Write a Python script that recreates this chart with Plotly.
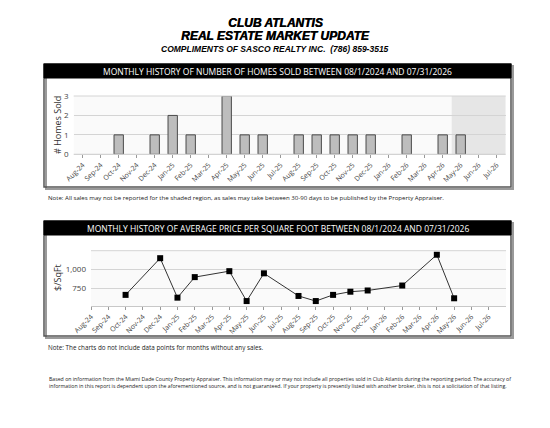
import plotly.graph_objects as go

W, H = 550, 428

months = ["Aug-24", "Sep-24", "Oct-24", "Nov-24", "Dec-24", "Jan-25", "Feb-25", "Mar-25",
          "Apr-25", "May-25", "Jun-25", "Jul-25", "Aug-25", "Sep-25", "Oct-25", "Nov-25",
          "Dec-25", "Jan-26", "Feb-26", "Mar-26", "Apr-26", "May-26", "Jun-26", "Jul-26"]
homes_sold = [0, 0, 1, 0, 1, 2, 1, 0, 3, 1, 1, 0, 1, 1, 1, 1, 1, 0, 1, 0, 1, 1, 0, 0]
price_sqft = [None, None, 665, None, 1140, 629, 895, None, 972, 585, 944, None,
              651, 585, 665, 706, 722, None, 786, None, 1185, 621, None, None]
shaded_from = "May-26"

idx = list(range(len(months)))


def px(x):
    return x / W


def py(y):
    return 1 - y / H


fig = go.Figure()

fig.add_trace(go.Bar(
    x=idx, y=homes_sold, width=0.52,
    marker=dict(color="#bdbdbd",
                line=dict(color="#4a4a4a", width=[1 if v > 0 else 0 for v in homes_sold])),
    xaxis="x", yaxis="y", showlegend=False, hoverinfo="skip"))

fig.add_trace(go.Scatter(
    x=idx, y=price_sqft, mode="lines+markers", connectgaps=True,
    line=dict(color="#333333", width=1),
    marker=dict(symbol="square", size=6, color="#000000"),
    xaxis="x2", yaxis="y2", showlegend=False, hoverinfo="skip"))

tickfont = dict(family="Open Sans, DejaVu Sans, sans-serif", size=7, color="#444444")
yfont = dict(family="Open Sans, DejaVu Sans, sans-serif", size=8, color="#444444")

fig.update_layout(
    template="none",
    width=W, height=H, autosize=False,
    margin=dict(l=0, r=0, t=0, b=0, pad=0),
    paper_bgcolor="white",
    plot_bgcolor="#fafafa",
    xaxis=dict(domain=[px(73.7), px(505.7)], range=[-0.5, 23.5], automargin=False,
               tickvals=idx, ticktext=months, tickangle=-45, tickfont=tickfont,
               ticks="outside", ticklen=3, tickcolor="#999999",
               showgrid=False, zeroline=False, showline=False, anchor="y"),
    yaxis=dict(domain=[py(154.3), py(96)], range=[0, 3], tickvals=[0, 1, 2, 3], automargin=False,
               tickfont=yfont, showgrid=True, gridcolor="#d4d4d4", gridwidth=1,
               zeroline=False, showline=False, anchor="x", ticks="", ticklabelstandoff=4),
    xaxis2=dict(domain=[px(91), px(506)], range=[0, 24], automargin=False,
                tickvals=idx, ticktext=months, tickangle=-45, tickfont=tickfont,
                ticks="outside", ticklen=3, tickcolor="#999999",
                showgrid=False, zeroline=False, showline=True, linecolor="#c8c8c8",
                anchor="y2"),
    yaxis2=dict(domain=[py(306), py(250.7)], range=[521, 1237], tickvals=[750, 1000],
                ticktext=["750", "1,000"], tickfont=yfont, automargin=False,
                showgrid=True, gridcolor="#d4d4d4", gridwidth=1,
                zeroline=False, showline=False, anchor="x2", ticks="", ticklabelstandoff=4),
)

shapes = []
shapes.append(dict(type="rect", xref="x", yref="y domain", x0=months.index(shaded_from) - 0.5,
                   x1=23.5, y0=0, y1=1, fillcolor="#e6e6e6", line=dict(width=0), layer="below"))
shapes.append(dict(type="line", xref="x domain", yref="y domain", x0=0, x1=1, y0=1, y1=1,
                   line=dict(color="#d4d4d4", width=1)))
shapes.append(dict(type="line", xref="x2 domain", yref="y2 domain", x0=0, x1=1, y0=1, y1=1,
                   line=dict(color="#d4d4d4", width=1)))
shapes.append(dict(type="line", xref="x domain", yref="y domain", x0=0, x1=1, y0=0, y1=0,
                   line=dict(color="#c8c8c8", width=1)))

for (top, bottom) in [(64, 187), (221, 336)]:
    shapes.append(dict(type="rect", xref="paper", yref="paper",
                       x0=px(46), x1=px(513), y0=py(bottom + 2), y1=py(top + 2),
                       fillcolor="rgba(0,0,0,0)", line=dict(color="#9a9a9a", width=2), layer="below"))
    shapes.append(dict(type="rect", xref="paper", yref="paper",
                       x0=px(44), x1=px(511), y0=py(bottom), y1=py(top),
                       fillcolor="rgba(0,0,0,0)", line=dict(color="#555555", width=1.5), layer="below"))
    shapes.append(dict(type="rect", xref="paper", yref="paper",
                       x0=px(44), x1=px(511), y0=py(top + 14), y1=py(top),
                       fillcolor="#000000", line=dict(color="#000000", width=1), layer="below"))
fig.update_layout(shapes=shapes)

hfont = "Liberation Sans, Arial, sans-serif"
bodyfont = "Open Sans, DejaVu Sans, sans-serif"
ann = []


def text(s, x, y, size, color="#000000", family=bodyfont, xanchor="center", angle=0, bold=False,
         shadow=None):
    f = dict(size=size, color=color, family=family, weight="bold" if bold else "normal")
    if shadow:
        f["shadow"] = shadow
    ann.append(dict(text=s, x=px(x), y=py(y), xref="paper", yref="paper", showarrow=False,
                    xanchor=xanchor, yanchor="middle", textangle=angle, font=f))


heavy = "0.5px 0px 0px #000000"
text("<i>CLUB ATLANTIS</i>", 275, 23, 12, family=hfont, bold=True, shadow=heavy)
text("<i>REAL ESTATE MARKET UPDATE</i>", 275, 36, 12, family=hfont, bold=True, shadow=heavy)
text("<i>COMPLIMENTS OF SASCO REALTY INC.  (786) 859-3515</i>", 275, 49, 8.5, family=hfont, bold=True)
text("MONTHLY HISTORY OF NUMBER OF HOMES SOLD BETWEEN 08/1/2024 AND 07/31/2026", 277.5, 71.5, 8.5,
     color="white")
text("MONTHLY HISTORY OF AVERAGE PRICE PER SQUARE FOOT BETWEEN 08/1/2024 AND 07/31/2026", 277.5, 228.5, 8.5,
     color="white")
text("# Homes Sold", 57, 125, 9, color="#333333", angle=-90)
text("$/SqFt", 57, 278, 9, color="#333333", angle=-90)
text("Note: All sales may not be reported for the shaded region, as sales may take between 30-90 days "
     "to be published by the Property Appraiser.", 46, 197, 6.1, color="#222222", xanchor="left")
text("Note: The charts do not include data points for months without any sales.", 46, 347, 6.3,
     color="#222222", xanchor="left")
text("Based on information from the Miami Dade County Property Appraiser. This information may or may not "
     "include all properties sold in Club Atlantis during the reporting period. The accuracy of",
     47, 379, 5.2, color="#222222", xanchor="left")
text("information in this report is dependent upon the aforementioned source, and is not guaranteed. "
     "If your property is presently listed with another broker, this is not a solicitation of that listing.",
     47, 385.5, 5.2, color="#222222", xanchor="left")
fig.update_layout(annotations=ann)

fig.write_html("out.html", config={"displayModeBar": False},
               post_script="document.body.style.margin='0';document.body.style.overflow='hidden';")
